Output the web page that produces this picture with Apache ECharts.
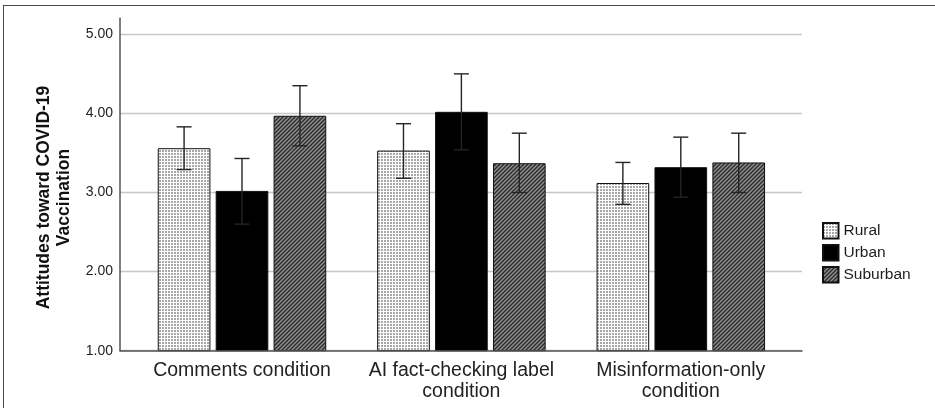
<!DOCTYPE html>
<html>
<head>
<meta charset="utf-8">
<script src="https://cdn.jsdelivr.net/npm/echarts@6/dist/echarts.min.js"></script>
<style>
html,body{margin:0;padding:0;background:#fff;}
#frame{position:absolute;left:3px;top:5px;width:1200px;height:600px;border:1.5px solid #4a4a4a;box-sizing:border-box;}
#chart{position:absolute;left:0;top:0;width:935px;height:408px;}
</style>
</head>
<body>
<div id="frame"></div>
<div id="chart"></div>
<script>
// ---- data ----
var categories = ['Comments condition', 'AI fact-checking label\ncondition', 'Misinformation-only\ncondition'];
var groups = ['Rural', 'Urban', 'Suburban'];
var ruralMean = [3.56, 3.53, 3.12];
var urbanMean = [3.02, 4.02, 3.32];
var suburbanMean = [3.97, 3.37, 3.38];
var ruralLow = [3.29, 3.18, 2.85];
var ruralHigh = [3.83, 3.87, 3.38];
var urbanLow = [2.60, 3.54, 2.94];
var urbanHigh = [3.43, 4.50, 3.70];
var suburbanLow = [3.59, 3.00, 3.00];
var suburbanHigh = [4.35, 3.75, 3.75];
var yTicks = [1, 2, 3, 4, 5];

// ---- patterns ----
function ruralPattern() {
  var c = document.createElement('canvas'); c.width = 3; c.height = 3;
  var g = c.getContext('2d');
  g.fillStyle = '#ffffff'; g.fillRect(0, 0, 3, 3);
  g.fillStyle = '#a8a8a8'; g.fillRect(0, 0, 2, 2);
  return c;
}
function suburbanPattern() {
  var c = document.createElement('canvas'); c.width = 4; c.height = 4;
  var g = c.getContext('2d');
  g.fillStyle = '#8e8e8e'; g.fillRect(0, 0, 4, 4);
  g.strokeStyle = '#2a2a2a'; g.lineWidth = 1.3;
  g.beginPath();
  g.moveTo(-1, 5); g.lineTo(5, -1);
  g.moveTo(-1, 1); g.lineTo(1, -1);
  g.moveTo(3, 5); g.lineTo(5, 3);
  g.stroke();
  return c;
}
var fills = [
  {image: ruralPattern(), repeat: 'repeat'},
  '#000000',
  {image: suburbanPattern(), repeat: 'repeat'}
];
var means = [ruralMean, urbanMean, suburbanMean];
var lows = [ruralLow, urbanLow, suburbanLow];
var highs = [ruralHigh, urbanHigh, suburbanHigh];

var FONT = "'Liberation Sans', Arial, sans-serif";
var BW = 0.24, GAP = 0.1;

var series = [];
groups.forEach(function (name, k) {
  series.push({
    name: name, type: 'bar', xAxisIndex: 2, yAxisIndex: 2,
    barWidth: (BW * 100) + '%', barGap: (GAP * 100) + '%',
    itemStyle: {color: fills[k], borderColor: '#111', borderWidth: 1},
    data: means[k], z: 3, silent: true
  });
});
groups.forEach(function (name, k) {
  series.push({
    type: 'custom', xAxisIndex: 2, yAxisIndex: 2, z: 10, silent: true,
    renderItem: function (params, api) {
      var c = api.value(0);
      var lo = api.coord([c, api.value(1)]);
      var hi = api.coord([c, api.value(2)]);
      var band = api.size([1, 0])[0];
      var bw = band * BW, gap = bw * GAP;
      var x = lo[0] + (k - 1) * (bw + gap);
      var cap = 7.5;
      var st = {stroke: '#242424', lineWidth: 1.4};
      return {type: 'group', children: [
        {type: 'line', shape: {x1: x, y1: lo[1], x2: x, y2: hi[1]}, style: st},
        {type: 'line', shape: {x1: x - cap, y1: hi[1], x2: x + cap, y2: hi[1]}, style: st},
        {type: 'line', shape: {x1: x - cap, y1: lo[1], x2: x + cap, y2: lo[1]}, style: st}
      ]};
    },
    data: categories.map(function (_, i) { return [i, lows[k][i], highs[k][i]]; })
  });
});

var chart = echarts.init(document.getElementById('chart'), null, {renderer: 'canvas'});
chart.setOption({
  animation: false,
  backgroundColor: 'transparent',
  textStyle: {fontFamily: FONT},
  grid: [
    {left: 120, right: 133, top: 18.3, bottom: 57.3},
    {left: 120, right: 133, top: 34.3, bottom: 57.3},
    {left: 132.3, right: 144.5, top: 34.3, bottom: 57.3}
  ],
  xAxis: [
    {gridIndex: 0, type: 'value', min: 0, max: 1, z: 5,
     axisLine: {show: true, lineStyle: {color: '#555', width: 1.5}},
     axisTick: {show: false}, axisLabel: {show: false}, splitLine: {show: false}},
    {gridIndex: 1, type: 'value', min: 0, max: 1, show: false},
    {gridIndex: 2, type: 'category', data: categories,
     axisLine: {show: false}, axisTick: {show: false},
     axisLabel: {interval: 0, fontSize: 19.5, lineHeight: 21, color: '#222', margin: 9, fontFamily: FONT}}
  ],
  yAxis: [
    {gridIndex: 0, type: 'value', min: 1, max: 5.2, z: 5,
     axisLine: {show: true, lineStyle: {color: '#555', width: 1.5}},
     axisTick: {show: false}, axisLabel: {show: false}, splitLine: {show: false}},
    {gridIndex: 1, type: 'value', min: yTicks[0], max: yTicks[yTicks.length - 1], interval: 1,
     axisLine: {show: false}, axisTick: {show: false},
     axisLabel: {fontSize: 14, color: '#1e1e1e', margin: 7, fontFamily: FONT,
       formatter: function (v) { return v.toFixed(2); }},
     splitLine: {show: true, lineStyle: {color: '#c6c6c6', width: 1.3}},
     name: 'Attitudes toward COVID-19\nVaccination', nameLocation: 'middle', nameGap: 46,
     nameTextStyle: {fontSize: 17.5, fontWeight: 'bold', lineHeight: 20, color: '#111', fontFamily: FONT,
       padding: [0, 10, 0, 0]}},
    {gridIndex: 2, type: 'value', min: 1, max: 5, show: false}
  ],
  legend: {
    data: groups, orient: 'vertical', left: 822, top: 222,
    itemWidth: 15.5, itemHeight: 15.5, itemGap: 4.5, icon: 'rect', padding: 0,
    textStyle: {fontSize: 15.5, color: '#1e1e1e', lineHeight: 16, fontFamily: FONT},
    selectedMode: false
  },
  series: series
});
</script>
</body>
</html>
